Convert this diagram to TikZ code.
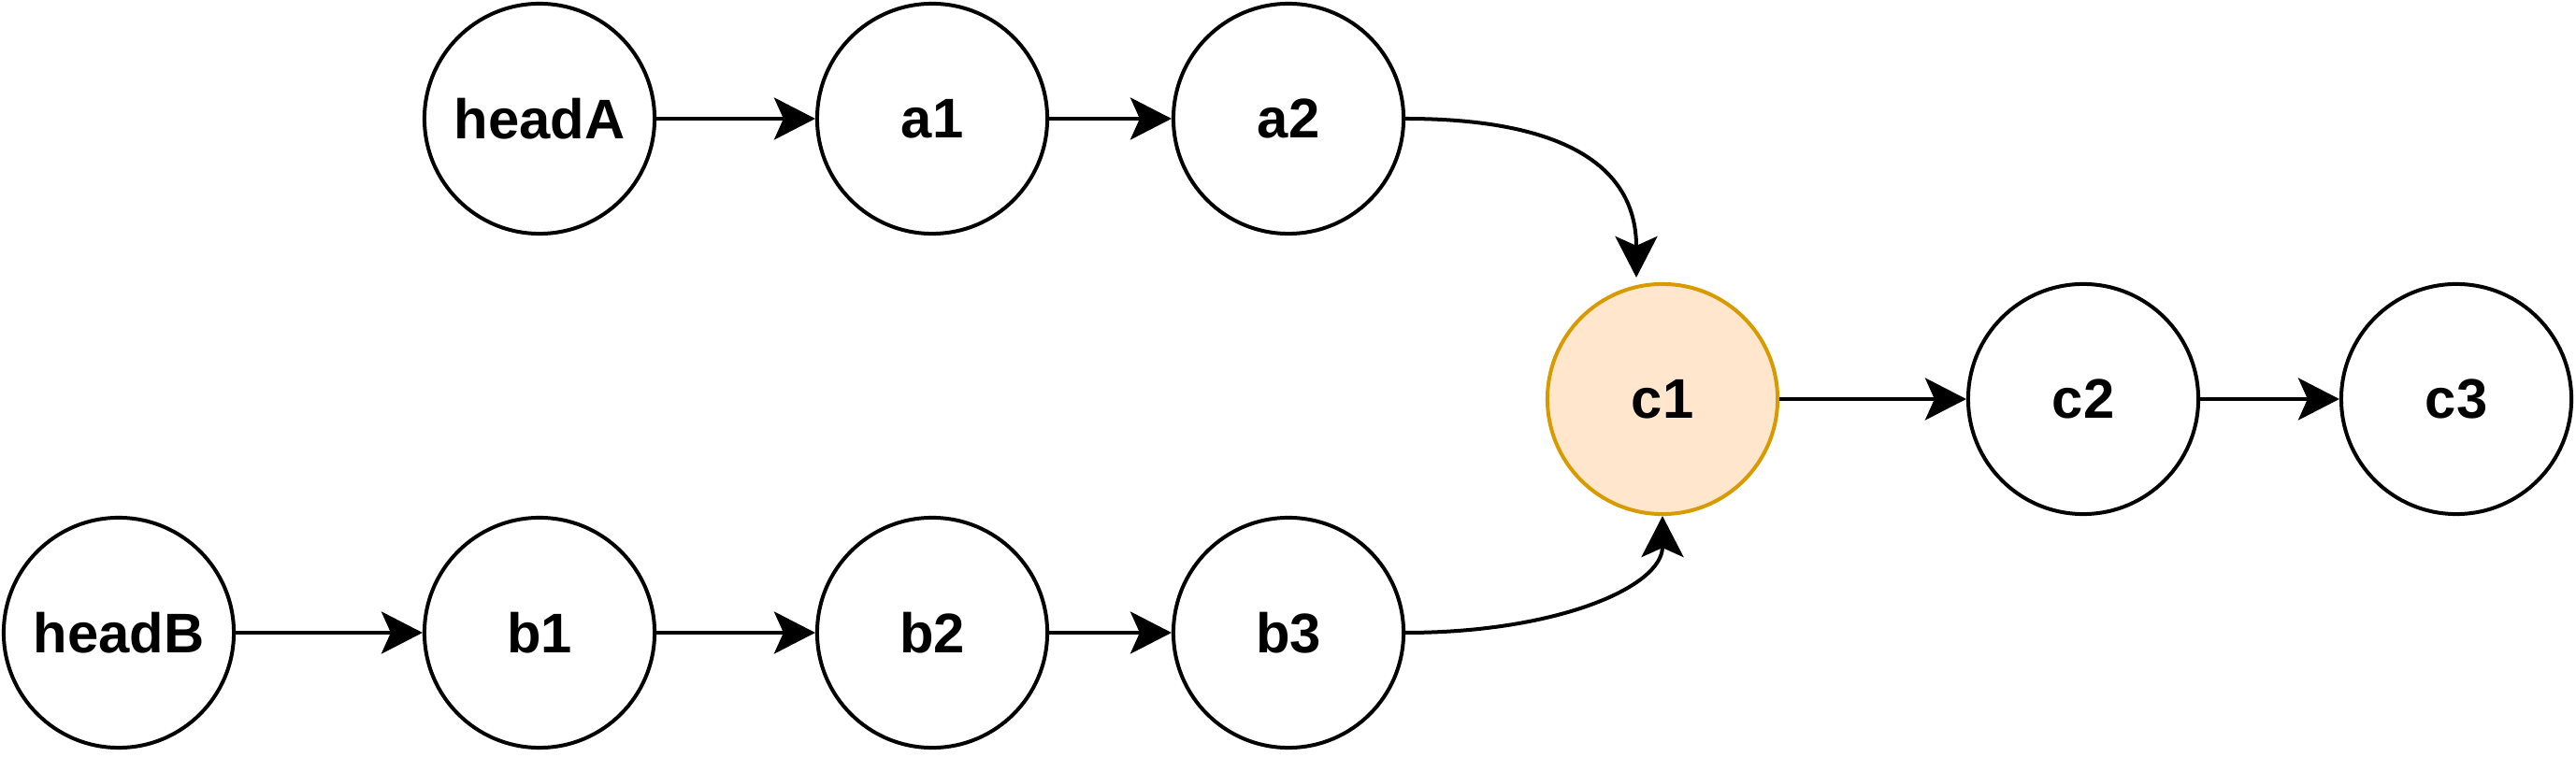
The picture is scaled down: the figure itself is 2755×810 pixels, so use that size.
\documentclass[tikz,border=0pt]{standalone}
\usepackage{fontspec}
\setmainfont{Liberation Sans}
\usetikzlibrary{arrows.meta,calc}
\definecolor{cfill}{HTML}{FFE6CC}
\definecolor{cdraw}{HTML}{D79B00}
\begin{document}
\begin{tikzpicture}[x=0.01cm,y=-0.01cm,
  nd/.style={circle,draw=black,line width=0.04cm,minimum size=2.46cm,inner sep=0pt,font=\fontsize{17}{20}\selectfont\bfseries,fill=white},
  hl/.style={nd,fill=cfill,draw=cdraw},
  arr/.style={line width=0.04cm,-{Stealth[length=0.44cm,width=0.45cm,inset=0.1cm]}}]
\useasboundingbox (0,0) rectangle (2755,810);
\node[nd] (hA) at (577,127) {headA};
\node[nd] (a1) at (997,127) {a1};
\node[nd] (a2) at (1378,127) {a2};
\node[hl] (c1) at (1778,427) {c1};
\node[nd] (c2) at (2228,427) {c2};
\node[nd] (c3) at (2627,427) {c3};
\node[nd] (hB) at (127,677) {headB};
\node[nd] (b1) at (577,677) {b1};
\node[nd] (b2) at (997,677) {b2};
\node[nd] (b3) at (1378,677) {b3};
\draw[arr] (hA.east) -- (a1.west);
\draw[arr] (a1.east) -- (a2.west);
\draw[arr] (c1.east) -- (c2.west);
\draw[arr] (c2.east) -- (c3.west);
\draw[arr] (hB.east) -- (b1.west);
\draw[arr] (b1.east) -- (b2.west);
\draw[arr] (b2.east) -- (b3.west);
\coordinate (t1) at ($(c1.north)+(-28,-5)$);
\draw[arr] (a2.east) .. controls (1660,127) and (1750,171) .. (t1);
\draw[arr] (b3.east) .. controls (1665,677) and (1778,628) .. (c1.south);
\end{tikzpicture}
\end{document}
